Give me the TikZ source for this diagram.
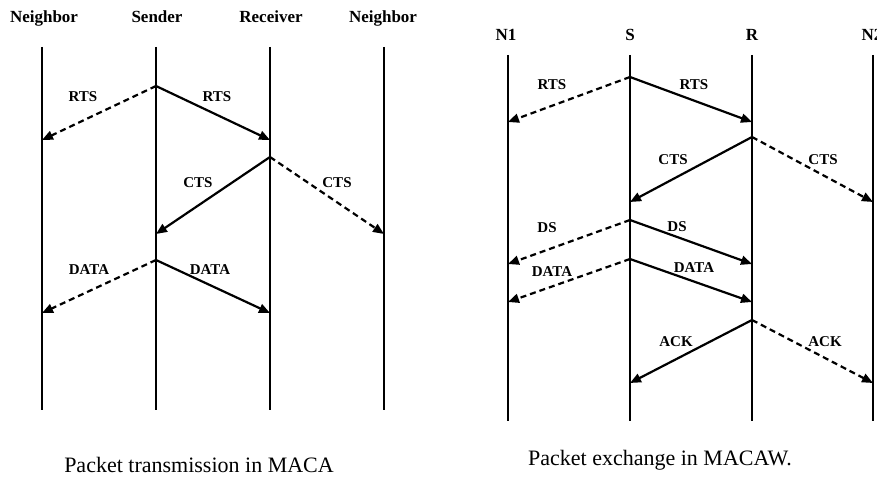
\documentclass[tikz,border=0pt]{standalone}
\usepackage{fontspec}
\setmainfont{Liberation Serif}
\usetikzlibrary{arrows.meta}

\begin{document}
\begin{tikzpicture}[x=1pt, y=-1pt,
  every node/.style = {inner sep=1pt},
  life/.style = {line width=2.6pt},
  msg/.style = {line width=2.2pt, -{Triangle[length=11pt,width=9pt]}},
  ovh/.style = {msg, dash pattern=on 6pt off 4pt},
  head/.style = {font=\fontsize{17}{17}\selectfont\bfseries,
    text height=11pt, text depth=3pt},
  lbl/.style = {font=\fontsize{15}{15}\selectfont\bfseries},
  capt/.style = {font=\fontsize{22}{22}\selectfont}]
  \useasboundingbox (0,0) rectangle (877,481);

  % MACA
  \node[head] (nbA) at (44,19) {Neighbor};
  \node[head] (snd) at (157,19) {Sender};
  \node[head] (rcv) at (271,19) {Receiver};
  \node[head] (nbB) at (383,19) {Neighbor};
  \coordinate (nbA-top) at (42,47);  \coordinate (nbA-bot) at (42,410);
  \coordinate (snd-top) at (156,47); \coordinate (snd-bot) at (156,410);
  \coordinate (rcv-top) at (270,47); \coordinate (rcv-bot) at (270,410);
  \coordinate (nbB-top) at (384,47); \coordinate (nbB-bot) at (384,410);
  \draw[life] (nbA-top) -- (nbA-bot);
  \draw[life] (snd-top) -- (snd-bot);
  \draw[life] (rcv-top) -- (rcv-bot);
  \draw[life] (nbB-top) -- (nbB-bot);

  \coordinate (snd-rts) at (156,86);
  \coordinate (rcv-rts) at (270,140);
  \coordinate (nbA-rts) at (42,140);
  \draw[msg] (snd-rts) -- (rcv-rts);
  \draw[ovh] (snd-rts) -- (nbA-rts);
  \node[lbl] (rtsA) at (83,97) {RTS};
  \node[lbl] (rtsB) at (217,97) {RTS};

  \coordinate (rcv-cts) at (270,157);
  \coordinate (snd-cts) at (156,234);
  \coordinate (nbB-cts) at (384,234);
  \draw[msg] (rcv-cts) -- (snd-cts);
  \draw[ovh] (rcv-cts) -- (nbB-cts);
  \node[lbl] (ctsA) at (198,183) {CTS};
  \node[lbl] (ctsB) at (337,183) {CTS};

  \coordinate (snd-data) at (156,260);
  \coordinate (rcv-data) at (270,313);
  \coordinate (nbA-data) at (42,313);
  \draw[msg] (snd-data) -- (rcv-data);
  \draw[ovh] (snd-data) -- (nbA-data);
  \node[lbl] (dataA) at (89,270) {DATA};
  \node[lbl] (dataB) at (210,270) {DATA};

  \node[capt] (captA) at (199,465) {Packet transmission in MACA};

  % MACAW
  \node[head] (nOne) at (506,37) {N1};
  \node[head] (src) at (630,37) {S};
  \node[head] (dst) at (752,37) {R};
  \node[head] (nTwo) at (872,37) {N2};
  \coordinate (nOne-top) at (508,55); \coordinate (nOne-bot) at (508,421);
  \coordinate (src-top) at (630,55);  \coordinate (src-bot) at (630,421);
  \coordinate (dst-top) at (752,55);  \coordinate (dst-bot) at (752,421);
  \coordinate (nTwo-top) at (873,55); \coordinate (nTwo-bot) at (873,421);
  \draw[life] (nOne-top) -- (nOne-bot);
  \draw[life] (src-top) -- (src-bot);
  \draw[life] (dst-top) -- (dst-bot);
  \draw[life] (nTwo-top) -- (nTwo-bot);

  \coordinate (src-rts) at (630,77);
  \coordinate (dst-rts) at (752,122);
  \coordinate (nOne-rts) at (508,122);
  \draw[msg] (src-rts) -- (dst-rts);
  \draw[ovh] (src-rts) -- (nOne-rts);
  \node[lbl] (rtsC) at (552,85) {RTS};
  \node[lbl] (rtsD) at (694,85) {RTS};

  \coordinate (dst-cts) at (752,137);
  \coordinate (src-cts) at (630,202);
  \coordinate (nTwo-cts) at (873,202);
  \draw[msg] (dst-cts) -- (src-cts);
  \draw[ovh] (dst-cts) -- (nTwo-cts);
  \node[lbl] (ctsC) at (673,160) {CTS};
  \node[lbl] (ctsD) at (823,160) {CTS};

  \coordinate (src-ds) at (630,220);
  \coordinate (dst-ds) at (752,264);
  \coordinate (nOne-ds) at (508,264);
  \draw[msg] (src-ds) -- (dst-ds);
  \draw[ovh] (src-ds) -- (nOne-ds);
  \node[lbl] (dsC) at (547,228) {DS};
  \node[lbl] (dsD) at (677,227) {DS};

  \coordinate (src-data) at (630,259);
  \coordinate (dst-data) at (752,302);
  \coordinate (nOne-data) at (508,302);
  \draw[msg] (src-data) -- (dst-data);
  \draw[ovh] (src-data) -- (nOne-data);
  \node[lbl] (dataC) at (552,272) {DATA};
  \node[lbl] (dataD) at (694,268) {DATA};

  \coordinate (dst-ack) at (752,320);
  \coordinate (src-ack) at (630,383);
  \coordinate (nTwo-ack) at (873,383);
  \draw[msg] (dst-ack) -- (src-ack);
  \draw[ovh] (dst-ack) -- (nTwo-ack);
  \node[lbl] (ackC) at (676,342) {ACK};
  \node[lbl] (ackD) at (825,342) {ACK};

  \node[capt] (captB) at (660,460) {Packet exchange in MACAW.};
\end{tikzpicture}
\end{document}
